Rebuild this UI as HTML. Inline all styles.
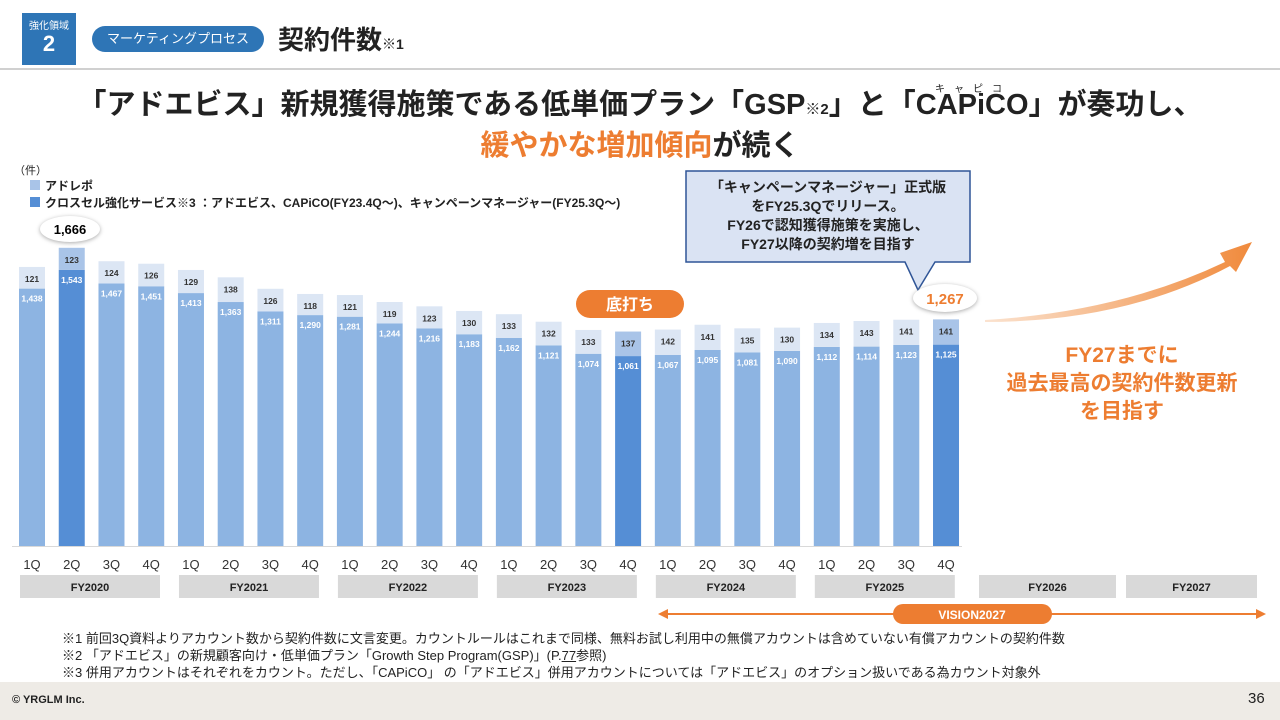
<!DOCTYPE html>
<html><head><meta charset="utf-8">
<style>
body{margin:0;width:1280px;height:720px;position:relative;background:#fff;font-family:"Liberation Sans","Noto Sans CJK JP",sans-serif;overflow:hidden;color:#222}
.abs{position:absolute}
</style></head><body>
<div class="abs" style="left:22px;top:13px;width:54px;height:52px;background:#2e75b6;color:#fff;text-align:center">
<div style="font-size:10px;margin-top:4px">強化領域</div><div style="font-size:22px;font-weight:bold;line-height:24px">2</div></div>
<div class="abs" style="left:92px;top:26px;width:172px;height:26px;border-radius:13px;background:#2e75b6;color:#fff;font-size:13px;line-height:26px;text-align:center">マーケティングプロセス</div>
<div class="abs" style="left:278px;top:20px;font-size:26px;font-weight:bold">契約件数<span style="font-size:14px">※1</span></div>
<div class="abs" style="left:0;top:68px;width:1280px;height:2px;background:#d0d0d0"></div>
<div class="abs" style="left:0;width:1280px;top:87px;text-align:center;font-size:29px;font-weight:bold;line-height:37px">「アドエビス」新規獲得施策である低単価プラン「GSP<span style="font-size:15px">※2</span>」と「CAPiCO」が奏功し、<br><span style="color:#ed7d31">緩やかな増加傾向</span>が続く</div>
<div class="abs" style="left:935px;top:80px;font-size:10px;letter-spacing:9px">キャピコ</div>
<div class="abs" style="left:14px;top:162px;font-size:11px">（件）</div>
<div class="abs" style="left:30px;top:178px;font-size:12px;font-weight:bold;line-height:17px;white-space:nowrap">
<div><span style="display:inline-block;width:10px;height:10px;background:#a9c4e8;margin-right:5px"></span>アドレポ</div>
<div><span style="display:inline-block;width:10px;height:10px;background:#558ed5;margin-right:5px"></span>クロスセル強化サービス※3 ：アドエビス、CAPiCO(FY23.4Q～)、キャンペーンマネージャー(FY25.3Q～)</div></div>
<svg class="abs" style="left:0;top:0" width="1280" height="720" id="chart">
<defs><linearGradient id="ag" x1="0" x2="1"><stop offset="0" stop-color="#fbe3d0"/><stop offset="1" stop-color="#f08a3c"/></linearGradient></defs>
<line x1="12" x2="962" y1="546.5" y2="546.5" stroke="#d9d9d9"/>
<g id="bars"></g>
<path d="M985 320 Q1120 312 1225 262 L1220 253 L1252 242 L1236 272 L1230 266 Q1125 322 985 322Z" fill="url(#ag)"/>
<line x1="662" x2="1262" y1="614" y2="614" stroke="#ed7d31" stroke-width="2"/>
<path d="M658 614 L668 609 L668 619Z M1266 614 L1256 609 L1256 619Z" fill="#ed7d31"/>
<rect x="893" y="604" width="159" height="20" rx="10" fill="#ed7d31"/>
<text x="972" y="619" fill="#fff" font-size="12" font-weight="bold" text-anchor="middle">VISION2027</text>
<path d="M686 171 H970 V262 H935 L918 290 L905 262 H686Z" fill="#dae3f3" stroke="#2f5597" stroke-width="1.5"/>
<rect x="576" y="290" width="108" height="28" rx="14" fill="#ed7d31"/>
<text x="630" y="310" fill="#fff" font-size="16" font-weight="bold" text-anchor="middle">底打ち</text>
<ellipse cx="70" cy="229" rx="30" ry="13" fill="#fff" style="filter:drop-shadow(0 1px 2px #aaa)"/>
<text x="70" y="234" font-size="13" font-weight="bold" text-anchor="middle">1,666</text>
<ellipse cx="945" cy="298" rx="32" ry="14" fill="#fff" style="filter:drop-shadow(0 1px 2px #aaa)"/>
<text x="945" y="304" font-size="15" font-weight="bold" fill="#ed7d31" text-anchor="middle">1,267</text>
</svg>
<div class="abs" style="left:686px;top:178px;width:284px;text-align:center;font-size:14px;font-weight:bold;line-height:19px">「キャンペーンマネージャー」正式版<br>をFY25.3Qでリリース。<br>FY26で認知獲得施策を実施し、<br>FY27以降の契約増を目指す</div>
<div class="abs" style="left:990px;width:264px;top:342px;text-align:center;color:#ed7d31;font-size:21px;font-weight:bold;line-height:28px">FY27までに<br>過去最高の契約件数更新<br>を目指す</div>
<div class="abs" style="left:62px;top:630px;font-size:13px;line-height:17px;white-space:nowrap">※1 前回3Q資料よりアカウント数から契約件数に文言変更。カウントルールはこれまで同様、無料お試し利用中の無償アカウントは含めていない有償アカウントの契約件数<br>※2 「アドエビス」の新規顧客向け・低単価プラン「Growth Step Program(GSP)」(P.<u>77</u>参照)<br>※3 併用アカウントはそれぞれをカウント。ただし、「CAPiCO」 の「アドエビス」併用アカウントについては「アドエビス」のオプション扱いである為カウント対象外</div>
<div class="abs" style="left:0;top:682px;width:1280px;height:38px;background:#eeebe6"></div>
<div class="abs" style="left:12px;top:694px;font-size:11px;font-weight:bold">© YRGLM Inc.</div>
<div class="abs" style="left:1248px;top:690px;font-size:15px">36</div>
<script>
const quarters=["1Q","2Q","3Q","4Q"];
const years=["FY2020","FY2021","FY2022","FY2023","FY2024","FY2025","FY2026","FY2027"];
const baseValues=[1438,1543,1467,1451,1413,1363,1311,1290,1281,1244,1216,1183,1162,1121,1074,1061,1067,1095,1081,1090,1112,1114,1123,1125];
const topValues=[121,123,124,126,129,138,126,118,121,119,123,130,133,132,133,137,142,141,135,130,134,143,141,141];
const highlight=[1,15,23];
const svg=document.getElementById('chart'),g=document.getElementById('bars'),NS='http://www.w3.org/2000/svg';
const x0=32,step=39.74,bw=26,base=546,k=0.179;
const xs=i=>x0+i*step, ys=v=>base-v*k;
function mk(t,a,txt){const e=document.createElementNS(NS,t);for(const n in a)e.setAttribute(n,a[n]);if(txt!=null)e.textContent=txt;g.appendChild(e);return e;}
const fmt=v=>v.toLocaleString('en-US');
baseValues.forEach((b,i)=>{
 const t=topValues[i],x=xs(i)-bw/2,dark=highlight.includes(i);
 const r1=mk('rect',{x:x,y:ys(b),width:bw,height:b*k,fill:dark?'#558ed5':'#8db4e2'});
 
 
 const r2=mk('rect',{x:x,y:ys(b+t),width:bw,height:t*k,fill:dark?'#a9c4e8':'#dce6f4'});
 
 
 mk('text',{x:xs(i),y:ys(b+t)+15,'font-size':8.5,'font-weight':'bold','text-anchor':'middle',fill:'#333'},fmt(t));
 mk('text',{x:xs(i),y:ys(b)+13,'font-size':8.5,'font-weight':'bold','text-anchor':'middle',fill:'#fff'},fmt(b));
 mk('text',{x:xs(i),y:569,'font-size':13,'text-anchor':'middle',fill:'#333'},quarters[i%4]);
});
years.forEach((y,j)=>{
 let x1,x2;
 if(j<6){x1=xs(j*4)-12;x2=x1+140;}else if(j==6){x1=979;x2=1116;}else{x1=1126;x2=1257;}
 const r=mk('rect',{x:x1,y:575,width:x2-x1,height:23,fill:'#d9d9d9'});
 
 
 mk('text',{x:(x1+x2)/2,y:591,'font-size':11,'font-weight':'bold','text-anchor':'middle',fill:'#222'},y);
});
</script>
</body></html>
